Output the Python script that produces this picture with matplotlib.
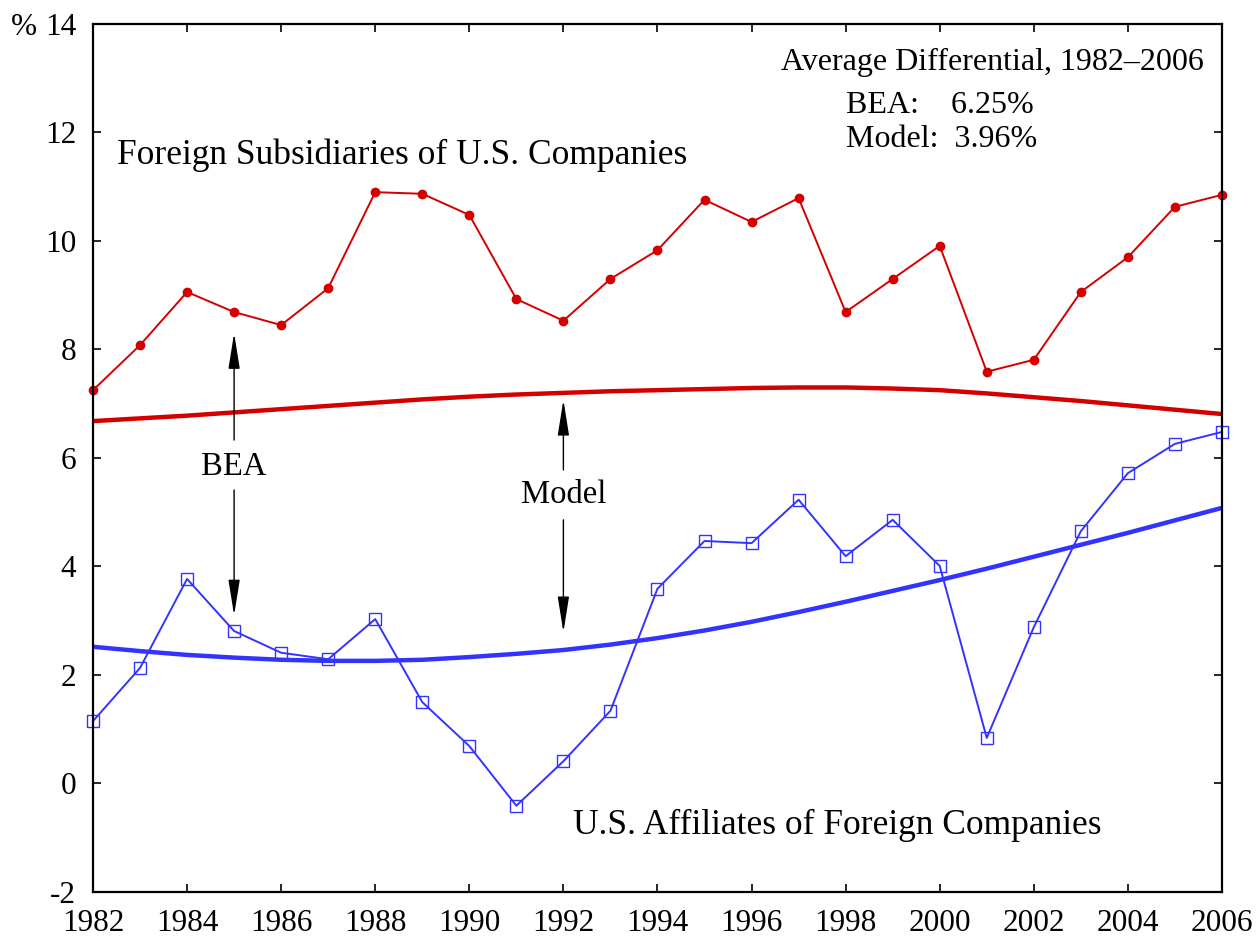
import matplotlib
matplotlib.use("Agg")
import matplotlib.pyplot as plt

plt.rcParams['font.family'] = ['Liberation Serif', 'DejaVu Serif']
plt.rcParams['axes.unicode_minus'] = False

years = list(range(1982, 2007))
foreign_subs = [7.25, 8.08, 9.06, 8.69, 8.45, 9.13, 10.90, 10.87, 10.48, 8.93, 8.53, 9.30, 9.83,
                10.76, 10.35, 10.79, 8.69, 9.30, 9.91, 7.59, 7.81, 9.06, 9.70, 10.63, 10.85]
us_affiliates = [1.15, 2.13, 3.77, 2.81, 2.41, 2.29, 3.03, 1.50, 0.69, -0.41, 0.41, 1.34, 3.59,
                 4.47, 4.43, 5.23, 4.19, 4.86, 4.01, 0.84, 2.88, 4.65, 5.72, 6.26, 6.48]
model_subs = [6.68, 6.73, 6.78, 6.84, 6.90, 6.96, 7.02, 7.08, 7.13, 7.17, 7.20, 7.23, 7.25,
              7.27, 7.29, 7.30, 7.30, 7.28, 7.25, 7.19, 7.12, 7.05, 6.97, 6.89, 6.81]
model_affil = [2.52, 2.44, 2.37, 2.32, 2.28, 2.26, 2.26, 2.28, 2.33, 2.39, 2.46, 2.56, 2.68,
               2.82, 2.98, 3.16, 3.35, 3.55, 3.75, 3.96, 4.18, 4.40, 4.62, 4.85, 5.08]
x_ticks = list(range(1982, 2007, 2))
y_ticks = list(range(-2, 15, 2))

red = '#d40000'
blue = '#3333ff'

fig = plt.figure(figsize=(12.6, 9.44), dpi=100)
ax = fig.add_axes([0.0738, 0.0551, 0.8960, 0.9195])

ax.plot(years, model_subs, color=red, lw=3.2, solid_capstyle='butt')
ax.plot(years, model_affil, color=blue, lw=3.2, solid_capstyle='butt')
ax.plot(years, foreign_subs, color=red, lw=1.4, marker='o', ms=6, mfc=red, mec=red, clip_on=False)
ax.plot(years, us_affiliates, color=blue, lw=1.4, marker='s', ms=9, mfc='none', mec=blue,
        mew=1.0, clip_on=False)

ax.set_xlim(1982, 2006)
ax.set_ylim(-2, 14)
ax.set_xticks(x_ticks)
ax.set_yticks(y_ticks)
ax.tick_params(direction='in', top=True, right=True, length=6, width=1.2,
               labelsize=22.5, pad=12)
for s in ax.spines.values():
    s.set_linewidth(1.6)

ax.text(-0.050, 1.0, '%', transform=ax.transAxes, fontsize=22.5, ha='right',
        va='center_baseline')

ax.text(1982.5, 11.58, 'Foreign Subsidiaries of U.S. Companies', fontsize=25.5,
        ha='left', va='center')
ax.text(1992.2, -0.78, 'U.S. Affiliates of Foreign Companies', fontsize=25.5,
        ha='left', va='center')

ax.text(0.797, 0.956, 'Average Differential, 1982\u20132006', transform=ax.transAxes,
        fontsize=23, ha='center', va='center')
ax.text(0.667, 0.906, 'BEA:    6.25%', transform=ax.transAxes, fontsize=23, ha='left', va='center')
ax.text(0.667, 0.867, 'Model:  3.96%', transform=ax.transAxes, fontsize=23, ha='left', va='center')

arrow = dict(arrowstyle='-|>,head_length=1.0,head_width=0.16', color='black', lw=1.0,
             mutation_scale=22, shrinkA=0, shrinkB=0)
ax.text(1985, 5.83, 'BEA', fontsize=23.5, ha='center', va='center')
ax.annotate('', xy=(1985, 8.30), xytext=(1985, 6.33), arrowprops=arrow)
ax.annotate('', xy=(1985, 3.10), xytext=(1985, 5.41), arrowprops=arrow)
ax.text(1992, 5.32, 'Model', fontsize=23.5, ha='center', va='center')
ax.annotate('', xy=(1992, 7.07), xytext=(1992, 5.78), arrowprops=arrow)
ax.annotate('', xy=(1992, 2.79), xytext=(1992, 4.86), arrowprops=arrow)

fig.savefig('out.png', dpi=100)
